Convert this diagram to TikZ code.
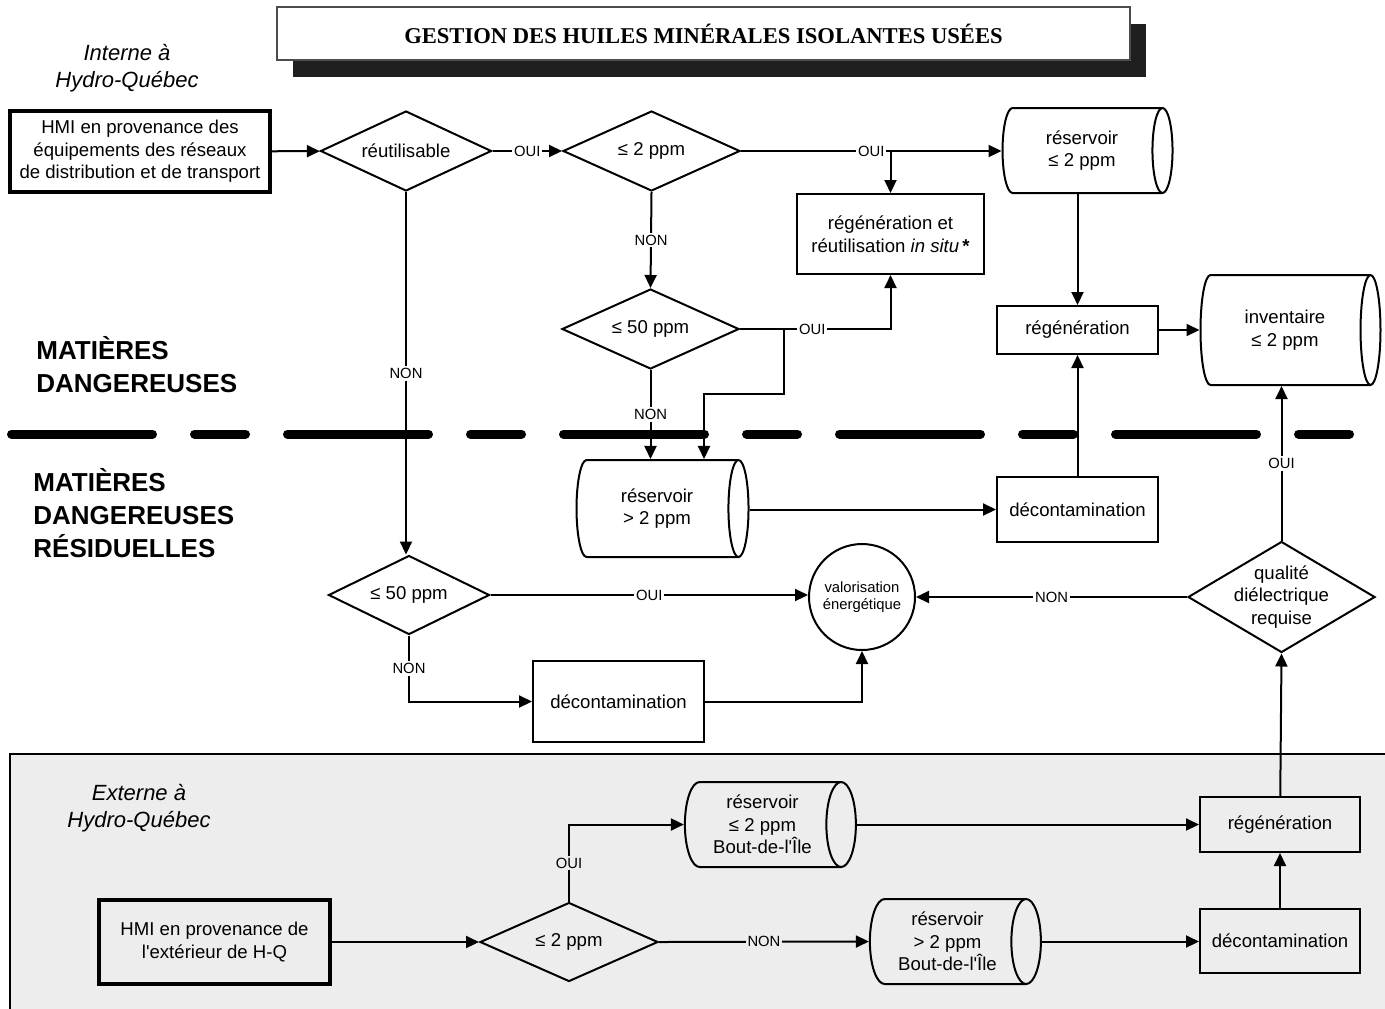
\documentclass[tikz,border=0pt]{standalone}
\usepackage{fontspec}
\setmainfont{Liberation Sans}[Ligatures=TeXOff]
\newfontfamily\titlefont{Liberation Serif}
\usetikzlibrary{shapes.geometric, arrows.meta, shadows}

\definecolor{shadegray}{gray}{0.93}
\newcommand{\bodysize}{\fontsize{9.3}{11.3}\selectfont}
\newcommand{\labelsize}{\fontsize{7.4}{8.5}\selectfont}

\begin{document}
\begin{tikzpicture}[x=0.5pt, y=-0.5pt,
    box/.style={rectangle, draw, line width=1pt, align=center, font=\bodysize, inner sep=2pt},
    inbox/.style={box, line width=1.8pt},
    dec/.style={diamond, draw, line width=1pt, align=center, font=\bodysize, aspect=2, inner sep=0pt},
    tank/.style={cylinder, draw, line width=1pt, align=center, font=\bodysize, aspect=0.5, inner sep=0pt},
    lbl/.style={fill=white, inner sep=1pt, font=\labelsize},
    lblsh/.style={lbl, fill=shadegray},
    arr/.style={-{Triangle[length=6.5pt, width=6pt]}, line width=1pt},
    cut/.style={line width=4.5pt, line cap=round, dash pattern=on 70.5pt off 21pt on 25.5pt off 21pt},
    zone/.style={font=\fontsize{13}{16.5}\selectfont\bfseries, align=left, anchor=west, inner sep=0pt},
    side/.style={font=\fontsize{11}{13.5}\selectfont\itshape, align=center}]

    \useasboundingbox (0,0) rectangle (1385,1008);

    % zone externe et ligne de partage
    \draw[fill=shadegray, line width=0.6pt] (10,754) rectangle (1390,1015);
    \coordinate (cutL) at (11.5,434);
    \coordinate (cutR) at (1352.5,434);
    \draw[cut] (cutL) -- (cutR);

    % titre
    \node[draw=black!70, line width=0.6pt, fill=white, minimum width=426.5pt, minimum height=26.5pt,
        drop shadow={shadow xshift=7.75pt, shadow yshift=-8.25pt, fill=black!88, opacity=1}] (title) at (703.5,33.5)
        {\titlefont\fontsize{11.3}{13}\selectfont\bfseries GESTION DES HUILES MINÉRALES ISOLANTES USÉES};

    \node[side] (interne) at (127,68.5) {Interne à\\Hydro-Québec};
    \node[side] (externe) at (139,808) {Externe à\\Hydro-Québec};
    \node[zone] (md) at (36,364.5) {MATIÈRES\\DANGEREUSES};
    \node[zone] (mdr) at (33,513.5) {MATIÈRES\\DANGEREUSES\\RÉSIDUELLES};

    % interne
    \node[inbox, minimum width=130pt, minimum height=40.5pt] (hmiin) at (140,151.5) {HMI en provenance des\\équipements des réseaux\\de distribution et de transport};
    \node[dec, minimum width=85.5pt, minimum height=40pt] (reut) at (406,151) {réutilisable};
    \node[dec, minimum width=88.5pt, minimum height=40pt] (ppmA) at (651.5,151) {≤ 2 ppm};
    \node[dec, minimum width=88.5pt, minimum height=40pt] (ppmB) at (650.5,329) {≤ 50 ppm};
    \node[box, minimum width=93.5pt, minimum height=40pt] (insitu) at (890.5,234) {régénération et\\réutilisation \textit{in situ}\,\textbf{*}};
    \node[tank, minimum height=85pt, minimum width=42.5pt] (resA) at (1082,150.5) {réservoir\\≤ 2 ppm};
    \node[box, minimum width=80.5pt, minimum height=24pt] (regenA) at (1077.5,330) {régénération};
    \node[tank, minimum height=90pt, minimum width=55pt] (invA) at (1285,330) {inventaire\\≤ 2 ppm};
    \node[tank, minimum height=86pt, minimum width=48.5pt] (resB) at (657,508.5) {réservoir\\> 2 ppm};
    \node[box, minimum width=80.5pt, minimum height=32.5pt] (decA) at (1077.5,509.5) {décontamination};
    \node[dec, minimum width=80.5pt, minimum height=39.5pt] (ppmC) at (409,595) {≤ 50 ppm};
    \node[circle, draw, line width=1pt, minimum size=53pt, inner sep=0pt, align=center, font=\labelsize] (valo) at (862,597) {valorisation\\énergétique};
    \node[box, minimum width=85.5pt, minimum height=40.5pt] (decB) at (618.5,701.5) {décontamination};
    \node[dec, minimum width=93.5pt, minimum height=55.5pt, inner sep=-5pt] (qual) at (1281.5,597) {qualité\\diélectrique\\requise};

    % externe
    \node[inbox, minimum width=115.5pt, minimum height=42pt] (hmiext) at (214.5,942) {HMI en provenance de\\l'extérieur de H-Q};
    \node[dec, minimum width=89pt, minimum height=39.5pt] (ppmD) at (569,942) {≤ 2 ppm};
    \node[tank, minimum height=85.5pt, minimum width=42.5pt] (resC) at (762.5,824.5) {réservoir\\≤ 2 ppm\\Bout-de-l'Île};
    \node[tank, minimum height=85.5pt, minimum width=42.5pt] (resD) at (947.5,941.5) {réservoir\\> 2 ppm\\Bout-de-l'Île};
    \node[box, minimum width=80pt, minimum height=27.5pt] (regenB) at (1280,824.5) {régénération};
    \node[box, minimum width=80pt, minimum height=32pt] (decC) at (1280,941) {décontamination};

    \coordinate (jA) at (784,329);
    \coordinate (jB) at (704,394);

    % liens
    \draw[arr] (hmiin) -- (reut);
    \draw[arr] (reut) -- node[lbl] {OUI} (ppmA);
    \draw[arr] (ppmA.east) -- node[lbl] {OUI} (ppmA.east -| resA.west);
    \draw[arr] (ppmA.east -| insitu.north) -- (insitu.north);
    \draw[arr] (ppmA.south) -- node[lbl] {NON} (ppmB.north);
    \draw[arr] (ppmB.east) -| node[lbl, pos=0.24] {OUI} (insitu.south);
    \draw[arr] (jA) |- (jB) -- (jB |- resB.north);
    \draw[arr] (ppmB.south) -- node[lbl] {NON} (ppmB.south |- resB.north);
    \draw[arr] (resA.south -| regenA.north) -- (regenA.north);
    \draw[arr] (regenA.east) -- (regenA.east -| invA.west);
    \draw[arr] (resB.east |- decA.west) -- (decA.west);
    \draw[arr] (decA) -- (regenA);
    \draw[arr] (reut.south) -- node[lbl] {NON} (reut.south |- ppmC.north);
    \draw[arr] (ppmC.east) -- node[lbl] {OUI} (ppmC.east -| valo.west);
    \draw[arr] (ppmC.south) |- node[lbl, pos=0.25] {NON} (decB.west);
    \draw[arr] (decB.east) -| (valo.south);
    \draw[arr] (qual.west) -- node[lbl] {NON} (qual.west -| valo.east);
    \draw[arr] (qual.north) -- node[lbl] {OUI} (qual.north |- invA.south);

    \draw[arr] (hmiext) -- (ppmD);
    \draw[arr] (ppmD.north) |- node[lblsh, pos=0.25] {OUI} (resC.west);
    \draw[arr] (ppmD.east) -- node[lblsh] {NON} (resD.west);
    \draw[arr] (resC.east) -- (resC.east -| regenB.west);
    \draw[arr] (resD.east) -- (resD.east -| decC.west);
    \draw[arr] (decC) -- (regenB);
    \draw[arr] (regenB) -- (qual.south);

\end{tikzpicture}
\end{document}
